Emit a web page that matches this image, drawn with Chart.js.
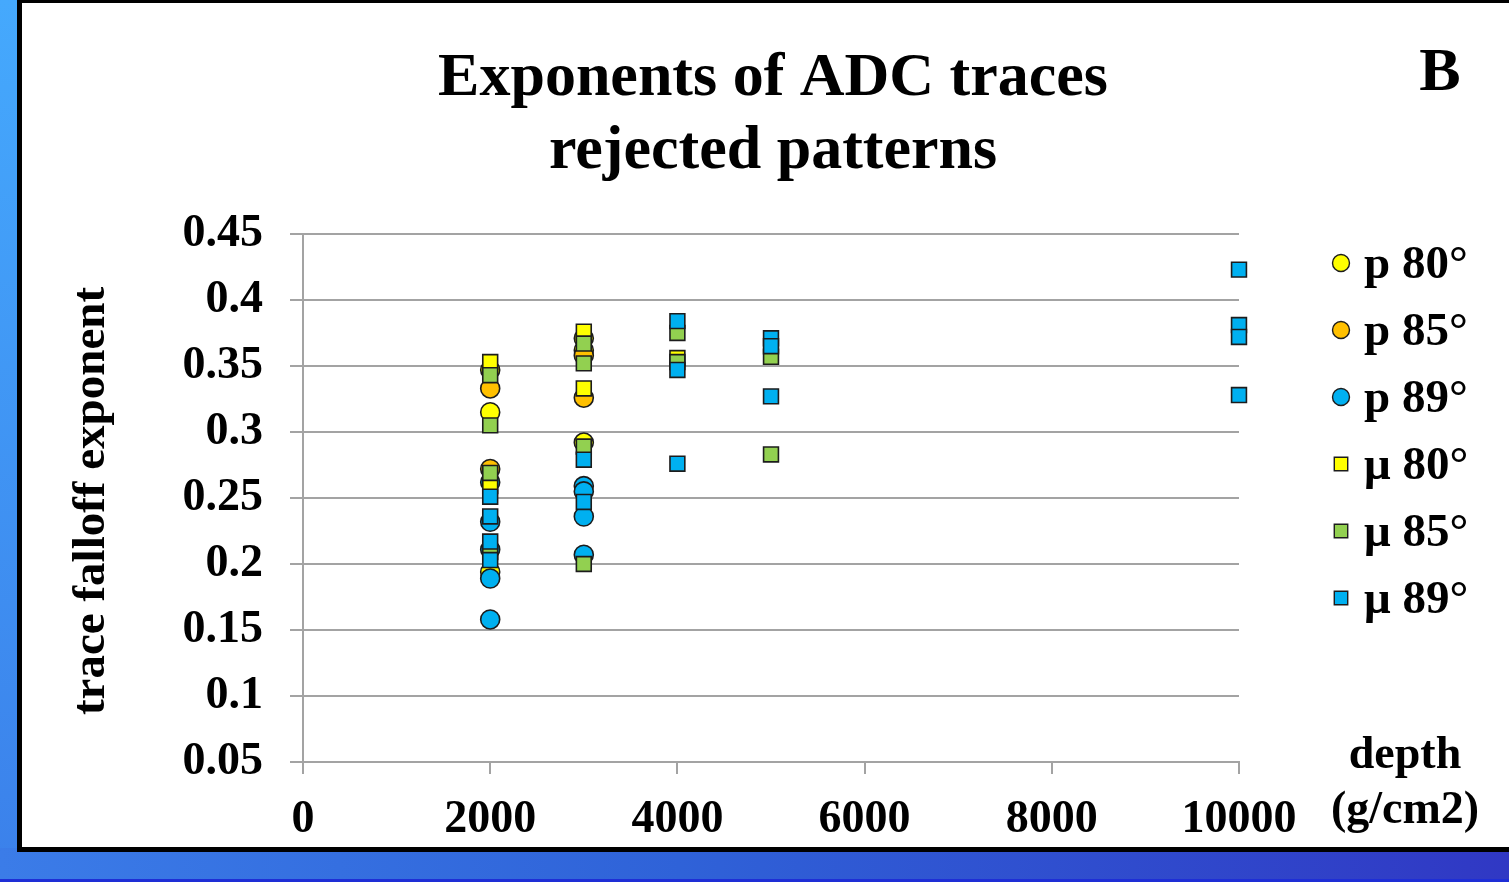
<!DOCTYPE html>
<html>
<head>
<meta charset="utf-8">
<title>Exponents of ADC traces rejected patterns</title>
<script src="https://cdn.jsdelivr.net/npm/chart.js@4.4.1/dist/chart.umd.min.js"></script>
<style>
  html, body { margin: 0; padding: 0; width: 1509px; height: 882px; overflow: hidden; background: #3a7ae8; }
  .strip  { position: absolute; left: 0; top: 0; width: 20px; height: 882px;
            background: linear-gradient(to bottom, #45a9fd, #3b80ea); }
  .band   { position: absolute; left: 0; top: 848px; width: 1509px; height: 34px;
            background: linear-gradient(to right, #3b7ce8, #2f62d8 45%, #3038c4); }
  .rule   { position: absolute; left: 0; top: 879px; width: 1509px; height: 3px; background: #1e2ed6; }
  .panel  { position: absolute; left: 17px; top: -2px; width: 1600px; height: 854px;
            box-sizing: border-box; background: #fff; border: 5px solid #000; }
  canvas  { position: absolute; left: 0; top: 0; }
</style>
</head>
<body>
<div class="strip"></div>
<div class="band"></div>
<div class="rule"></div>
<div class="panel"></div>
<canvas id="chart" width="1509" height="882"></canvas>
<script>
// depth (g/cm2) and fitted falloff exponent per pattern family
const SERIES_LABELS = ['p 80°', 'p 85°', 'p 89°', 'μ 80°', 'μ 85°', 'μ 89°'];

const P80_X = [2000, 2000, 2000, 3000, 3000, 3000];
const P80_Y = [0.347, 0.315, 0.194, 0.371, 0.362, 0.292];

const P85_X = [2000, 2000, 3000, 3000];
const P85_Y = [0.333, 0.272, 0.358, 0.326];

const P89_X = [2000, 2000, 2000, 2000, 2000, 3000, 3000, 3000, 3000];
const P89_Y = [0.262, 0.232, 0.211, 0.189, 0.158, 0.259, 0.255, 0.236, 0.207];

const M80_X = [2000, 2000, 3000, 3000, 4000];
const M80_Y = [0.353, 0.259, 0.376, 0.333, 0.356];

const M85_X = [2000, 2000, 2000, 2000, 3000, 3000, 3000, 3000, 4000, 4000, 5000, 5000];
const M85_Y = [0.343, 0.305, 0.269, 0.209, 0.367, 0.352, 0.289, 0.200, 0.375, 0.353, 0.357, 0.283];

const M89_X = [2000, 2000, 2000, 2000, 3000, 3000, 4000, 4000, 4000, 5000, 5000, 5000, 10000, 10000, 10000, 10000];
const M89_Y = [0.251, 0.236, 0.217, 0.203, 0.279, 0.247, 0.384, 0.347, 0.276, 0.371, 0.365, 0.327, 0.423, 0.381, 0.372, 0.328];

const X_TICKS = [0, 2000, 4000, 6000, 8000, 10000];
const Y_TICKS = [0.05, 0.1, 0.15, 0.2, 0.25, 0.3, 0.35, 0.4, 0.45];

const TITLE_LINES = ['Exponents of ADC traces', 'rejected patterns'];
const Y_TITLE = 'trace falloff exponent';
const X_TITLE_LINES = ['depth', '(g/cm2)'];

const SERIF = '"Liberation Serif", "Times New Roman", serif';
const GRID = '#a3a3a3';
const EDGE = '#1c1c1c';

const styles = [
  { color: '#ffff00', shape: 'circle', r: 9.5 },
  { color: '#ffc000', shape: 'circle', r: 9.5 },
  { color: '#00b0f0', shape: 'circle', r: 9.5 },
  { color: '#ffff00', shape: 'rect',   r: 10.5 },
  { color: '#92d050', shape: 'rect',   r: 10.5 },
  { color: '#00b0f0', shape: 'rect',   r: 10.5 },
];
const seriesX = [P80_X, P85_X, P89_X, M80_X, M85_X, M89_X];
const seriesY = [P80_Y, P85_Y, P89_Y, M80_Y, M85_Y, M89_Y];

const datasets = SERIES_LABELS.map((label, i) => ({
  label,
  data: seriesX[i].map((x, k) => ({ x, y: seriesY[i][k] })),
  pointStyle: styles[i].shape,
  pointRadius: styles[i].r,
  pointHoverRadius: styles[i].r,
  backgroundColor: styles[i].color,
  borderColor: EDGE,
  borderWidth: 1.6,
  order: SERIES_LABELS.length - i,   // later series drawn on top
  clip: false,
}));

// title, axis captions and legend drawn around the plot
const decorations = {
  id: 'decorations',
  afterDraw(chart) {
    const ctx = chart.ctx;
    const a = chart.chartArea;
    ctx.save();
    ctx.fillStyle = '#000';
    ctx.textBaseline = 'alphabetic';

    ctx.font = 'bold 62px ' + SERIF;
    ctx.textAlign = 'center';
    TITLE_LINES.forEach((t, i) => ctx.fillText(t, (a.left + a.right) / 2 + 2, 95 + i * 73));
    ctx.fillText('B', 1440, 90);

    ctx.font = 'bold 47px ' + SERIF;
    ctx.save();
    ctx.translate(104, 501);
    ctx.rotate(-Math.PI / 2);
    ctx.fillText(Y_TITLE, 0, 0);
    ctx.restore();

    ctx.font = 'bold 46px ' + SERIF;
    X_TITLE_LINES.forEach((t, i) => ctx.fillText(t, 1405, 768 + i * 55));

    ctx.font = 'bold 47px ' + SERIF;
    ctx.textAlign = 'left';
    ctx.textBaseline = 'middle';
    chart.data.datasets.forEach((ds, i) => {
      const y = 263 + i * 67;
      ctx.fillStyle = ds.backgroundColor;
      ctx.strokeStyle = EDGE;
      ctx.lineWidth = 1.4;
      Chart.helpers.drawPoint(ctx, {
        pointStyle: ds.pointStyle,
        radius: ds.pointStyle === 'circle' ? 8.5 : 9.5,
        rotation: 0,
        borderWidth: 1.4,
      }, 1341, y);
      ctx.fillStyle = '#000';
      ctx.fillText(ds.label, 1364, y + 3);
    });
    ctx.restore();
  }
};

const tickFont = { family: SERIF, size: 46, weight: 'bold' };

new Chart(document.getElementById('chart'), {
  type: 'scatter',
  data: { datasets },
  options: {
    responsive: false,
    animation: false,
    devicePixelRatio: 1,
    layout: { padding: { left: 0, top: 234, right: 270, bottom: 0 } },
    plugins: {
      legend: { display: false },
      title: { display: false },
      tooltip: { enabled: false },
    },
    scales: {
      x: {
        type: 'linear',
        min: X_TICKS[0],
        max: X_TICKS[X_TICKS.length - 1],
        afterBuildTicks: s => { s.ticks = X_TICKS.map(v => ({ value: v })); },
        afterFit: s => { s.height = 120; },
        ticks: { font: tickFont, color: '#000', padding: 19, maxRotation: 0, callback: v => String(v) },
        grid: { drawOnChartArea: false, drawTicks: true, tickLength: 12, color: GRID, lineWidth: 2 },
        border: { display: true, color: GRID, width: 2 },
      },
      y: {
        type: 'linear',
        min: Y_TICKS[0],
        max: Y_TICKS[Y_TICKS.length - 1],
        afterBuildTicks: s => { s.ticks = Y_TICKS.map(v => ({ value: v })); },
        afterFit: s => { s.width = 303; },
        ticks: { font: tickFont, color: '#000', padding: 27, callback: v => String(Math.round(v * 100) / 100) },
        grid: { drawTicks: true, tickLength: 13, color: GRID, lineWidth: 2 },
        border: { display: true, color: GRID, width: 2 },
      },
    },
  },
  plugins: [decorations],
});
</script>
</body>
</html>
